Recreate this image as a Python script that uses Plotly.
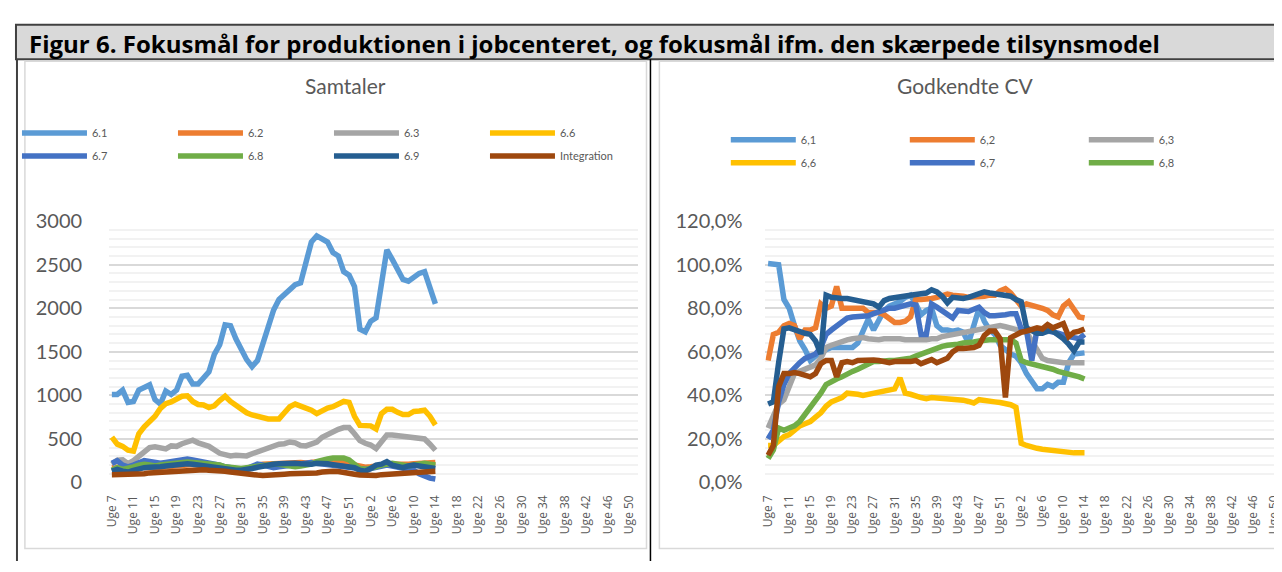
import plotly.graph_objects as go

# the page body has an 8px margin, so the figure is laid out 8px smaller
OFF = 8
W, H = 1282 - OFF, 572 - OFF

# week categories: Uge 7..53 and then Uge 1..50 of the next year
week_nums = list(range(7, 54)) + list(range(1, 51))
week_keys = [f"a{w}" for w in range(7, 54)] + [f"b{w}" for w in range(1, 51)]
week_labels = [f"Uge {w}" for w in week_nums]
data_keys = week_keys[:61]

# Samtaler (antal)
sam_61 = [1010, 1010, 1060, 920, 930, 1060, 1090, 1120, 950, 900,
          1050, 1010, 1060, 1220, 1230, 1130, 1130, 1190, 1270, 1470,
          1580, 1810, 1800, 1650, 1530, 1410, 1330, 1400, 1590, 1800,
          1980, 2100, 2160, 2210, 2270, 2290, 2500, 2760, 2830, 2800,
          2760, 2640, 2600, 2420, 2380, 2250, 1760, 1730, 1850, 1890,
          2250, 2670, 2560, 2430, 2330, 2310, 2360, 2400, 2420, 2250,
          2050]
sam_62 = [170, 175, 160, 150, 165, 170, 180, 175, 170, 175,
          180, 185, 190, 200, 210, 205, 200, 195, 190, 185,
          180, 175, 160, 150, 140, 145, 170, 200, 210, 215,
          220, 220, 225, 225, 230, 230, 225, 230, 240, 250,
          250, 240, 235, 230, 220, 200, 180, 175, 180, 190,
          200, 210, 215, 210, 205, 210, 215, 220, 230, 235,
          230]
sam_63 = [210, 255, 260, 215, 250, 300, 340, 400, 410, 395,
          385, 420, 415, 445, 470, 485, 455, 440, 415, 375,
          335, 320, 305, 312, 310, 305, 330, 355, 380, 400,
          420, 440, 445, 465, 455, 425, 420, 440, 465, 520,
          555, 590, 610, 630, 630, 560, 480, 450, 430, 390,
          460, 545, 545, 535, 525, 530, 520, 510, 500, 440,
          370]
sam_66 = [520, 440, 415, 370, 360, 560, 640, 700, 760, 850,
          905, 925, 950, 990, 995, 930, 895, 890, 860, 880,
          940, 990, 930, 880, 845, 800, 775, 760, 740, 730,
          730, 730, 800, 870, 900, 880, 860, 830, 790, 830,
          855, 870, 900, 930, 920, 760, 655, 650, 650, 615,
          790, 840, 840, 805, 780, 780, 815, 820, 830, 760,
          660]
sam_67 = [220, 250, 200, 180, 200, 230, 250, 240, 230, 220,
          230, 240, 250, 260, 270, 260, 250, 240, 230, 220,
          200, 180, 170, 160, 150, 160, 190, 210, 200, 180,
          170, 180, 190, 200, 210, 220, 220, 230, 220, 210,
          200, 190, 185, 180, 175, 170, 160, 150, 160, 170,
          180, 200, 190, 180, 170, 160, 140, 100, 70, 50,
          40]
sam_68 = [140, 170, 150, 160, 180, 200, 210, 200, 190, 200,
          210, 220, 230, 240, 235, 230, 225, 230, 225, 220,
          200, 180, 170, 160, 160, 170, 180, 190, 200, 200,
          210, 210, 200, 190, 180, 190, 200, 210, 240, 260,
          270, 280, 285, 280, 260, 200, 160, 150, 160, 180,
          200, 210, 220, 210, 200, 190, 200, 210, 220, 210,
          200]
sam_69 = [130, 150, 130, 120, 140, 160, 170, 175, 170, 180,
          190, 200, 210, 220, 215, 210, 200, 190, 180, 170,
          160, 150, 145, 140, 140, 145, 160, 175, 190, 200,
          210, 215, 220, 225, 220, 215, 205, 210, 220, 225,
          215, 205, 200, 195, 190, 170, 140, 130, 160, 200,
          210, 240, 200, 180, 170, 190, 200, 190, 180, 170,
          160]
sam_int = [90, 90, 95, 90, 90, 95, 100, 110, 115, 105,
           110, 120, 125, 135, 145, 150, 150, 145, 140, 140,
           135, 130, 120, 110, 100, 95, 90, 85, 80, 80,
           85, 90, 95, 100, 100, 100, 100, 105, 110, 120,
           130, 130, 125, 120, 110, 95, 85, 80, 75, 80,
           90, 95, 100, 105, 110, 115, 120, 125, 135, 140,
           130]

# Godkendte CV (procent)
cv_61 = [100.5, 100.5, 100, 84, 80, 72, 65, 61, 56, 58,
         60, 61, 62, 62, 62, 62, 62, 64, 69, 75,
         70, 75, 79, 81, 82, 83, 85, 86, 82, 77,
         79, 80, 72, 70, 70, 69.5, 70, 69, 64, 72,
         80, 74, 70, 68, 63, 61, 59, 58, 55, 50,
         47, 43, 43, 45, 44, 46, 46, 55, 59, 59,
         59.5]
cv_62 = [56, 68, 69, 72, 73, 72, 66, 70, 70, 71,
         82, 80, 81, 90, 80, 80, 80, 80, 80, 78,
         78, 78, 77, 75, 73.5, 73.5, 74, 76, 84, 84,
         84, 84.5, 85, 86, 86.5, 86, 86, 85.5, 85, 85,
         85.5, 85.5, 86, 86, 88, 89, 87, 84, 81, 82,
         81.5, 81, 80, 79, 77, 76, 81, 83, 79, 76,
         75.5]
cv_63 = [25, 30, 36, 38, 44, 50, 51, 52, 53, 54,
         57, 62, 63, 64, 65, 65.5, 66, 66.5, 66.5, 66,
         65.5, 65.5, 66, 66, 66.5, 66, 65.5, 65.5, 65, 65,
         65.5, 66, 66, 67, 67.5, 68, 68.5, 69, 69.5, 70,
         70, 70.5, 71, 71.5, 72, 71.5, 71, 70.5, 70, 69,
         65, 61, 57, 56, 55.5, 55, 55, 55, 55, 55,
         55]
cv_66 = [17, 17, 19, 21, 22, 24, 26, 27, 28, 30,
         32, 35, 37, 38, 39, 41, 41, 40.5, 40, 40.5,
         41.5, 42, 42.5, 42.5, 43, 48, 41, 40.5, 39.5, 39,
         38.5, 39, 38.8, 38.7, 38.5, 38.3, 38, 37.8, 37.2, 36.5,
         38, 37.5, 37.5, 37, 36.7, 36.5, 35.7, 34.5, 18, 17,
         16.2, 15.7, 15.3, 15, 14.6, 14.2, 13.8, 13.8, 13.6, 13.6,
         13.6]
cv_67 = [20, 24, 37, 45, 50, 53, 55, 57, 58, 59,
         62, 68, 70, 72, 74, 75.5, 76, 76, 76, 76.5,
         77.5, 78.5, 79.5, 80, 80, 80.5, 81, 82, 81.5, 68,
         68, 82, 80.5, 79, 77, 75.5, 79, 78.5, 78.5, 79.5,
         80.5, 78, 76.5, 76.5, 76.5, 77, 77.5, 77.5, 70.5, 69.5,
         56, 70.5, 70.5, 69.5, 69, 68.5, 67.5, 67, 66.5, 66,
         68]
cv_68 = [11, 15, 25, 24, 25, 26, 28, 31, 34, 37,
         41, 45, 46.5, 47.5, 48.5, 50, 51, 52, 53, 54.5,
         55.5, 55.5, 56, 56, 56, 56.2, 56.5, 57, 58, 59,
         60, 61, 62, 62.5, 63, 63, 63.5, 64, 64, 64.5,
         65, 65.5, 65.5, 65.5, 65.5, 65.5, 65.5, 64, 56, 55,
         54.5, 54, 53.5, 53, 52, 51, 50.5, 50, 49.5, 48.5,
         47.5]
cv_69 = [36, 37, 55, 70.5, 71, 70, 69, 68.5, 68, 65,
         59, 86, 85, 84.5, 84.5, 84.5, 84, 83.5, 83, 83,
         82, 80.5, 83.5, 84.5, 85, 85, 85.5, 86, 86.3, 86.6,
         87, 88.5, 87.5, 85.5, 82.5, 85, 84.5, 84.5, 85, 86,
         86.5, 87.5, 87, 86.5, 86, 86, 85.5, 84, 83, 71,
         70, 68.5, 68.5, 69.5, 69.5, 68, 66, 63.5, 60.5, 64.5,
         64.5]
cv_int = [12.5, 17, 44, 50, 50, 50.5, 50, 49, 48.5, 50,
          54.5, 56, 56, 48.5, 55, 55.5, 55, 56, 56.2, 56.4,
          56.2, 56, 55.5, 55, 55.5, 55.5, 55, 55.5, 56, 54.5,
          55.5, 56.4, 55, 56, 57, 60, 61.5, 61.5, 61.5, 62,
          63, 67.5, 69.5, 69.5, 66, 39, 66.5, 68, 69, 69.5,
          70.5, 71, 70.5, 72.5, 71, 72, 73, 67, 69, 69.5,
          70.5]

colors = ["#5B9BD5", "#ED7D31", "#A5A5A5", "#FFC000",
          "#4472C4", "#70AD47", "#255E91", "#9E480E"]

sam_names = ["6.1", "6.2", "6.3", "6.6", "6.7", "6.8", "6.9", "Integration"]
sam_series = [sam_61, sam_62, sam_63, sam_66, sam_67, sam_68, sam_69, sam_int]
cv_names = ["6,1", "6,2", "6,3", "6,6", "6,7", "6,8", "6,9", "Integration"]
cv_series = [cv_61, cv_62, cv_63, cv_66, cv_67, cv_68, cv_69, cv_int]


# positions below are screen pixels of the 1282x572 page
def px_x(v):
    return (v - OFF) / W


def px_y(v):
    return 1 - (v - OFF) / H


fig = go.Figure()

for i, (name, vals) in enumerate(zip(sam_names, sam_series)):
    fig.add_trace(go.Scatter(
        x=data_keys, y=vals, name=name, mode="lines",
        line=dict(color=colors[i], width=5.5),
        xaxis="x", yaxis="y",
        legend="legend" if i < 4 else "legend2",
    ))

for i, (name, vals) in enumerate(zip(cv_names, cv_series)):
    fig.add_trace(go.Scatter(
        x=data_keys, y=vals, name=name, mode="lines",
        line=dict(color=colors[i], width=5.5),
        xaxis="x2", yaxis="y2",
        legend="legend3" if i < 3 else "legend4",
        showlegend=i < 6,
    ))

tick_font = dict(family="Open Sans", size=12, color="#595959")
ylab_font = dict(family="Lato", size=20, color="#595959")
legend_font = dict(family="Lato", size=11, color="#595959")

xcommon = dict(
    type="category", categoryorder="array", categoryarray=week_keys,
    tickmode="array", tickvals=week_keys[::4], ticktext=week_labels[::4],
    tickangle=-90, tickfont=tick_font, showgrid=False, zeroline=False,
    showline=False, ticks="outside", ticklen=7, tickcolor="rgba(0,0,0,0)",
)

fig.update_layout(
    width=W, height=H,
    margin=dict(l=0, r=0, t=0, b=0),
    paper_bgcolor="white", plot_bgcolor="white",
    separators=",.",
    showlegend=True,
    xaxis=dict(xcommon, domain=[px_x(104), px_x(637)], range=[-0.5, 97.5], anchor="y"),
    xaxis2=dict(xcommon, domain=[px_x(766), 1.0], range=[-0.5, 96.5], anchor="y2"),
    yaxis=dict(
        domain=[px_y(490), px_y(217)], range=[0, 3000], dtick=500,
        showgrid=True, gridcolor="#D9D9D9", gridwidth=2, zeroline=False,
        tickfont=ylab_font, ticklabelstandoff=26, anchor="x",
        minor=dict(dtick=100, showgrid=True, gridcolor="#F2F2F2", gridwidth=2),
    ),
    yaxis2=dict(
        domain=[px_y(490), px_y(217)], range=[0, 120], dtick=20,
        tickformat=".1f", ticksuffix="%",
        showgrid=True, gridcolor="#D9D9D9", gridwidth=2, zeroline=False,
        tickfont=ylab_font, ticklabelstandoff=22, anchor="x2",
        minor=dict(dtick=4, showgrid=True, gridcolor="#F2F2F2", gridwidth=2),
    ),
    legend=dict(orientation="h", x=px_x(11), y=px_y(125), xanchor="left", yanchor="middle",
                entrywidth=76, itemwidth=65, font=legend_font, bgcolor="rgba(0,0,0,0)"),
    legend2=dict(orientation="h", x=px_x(11), y=px_y(149), xanchor="left", yanchor="middle",
                 entrywidth=76, itemwidth=65, font=legend_font, bgcolor="rgba(0,0,0,0)"),
    legend3=dict(orientation="h", x=px_x(726), y=px_y(132), xanchor="left", yanchor="middle",
                 entrywidth=99, itemwidth=65, font=legend_font, bgcolor="rgba(0,0,0,0)"),
    legend4=dict(orientation="h", x=px_x(726), y=px_y(156), xanchor="left", yanchor="middle",
                 entrywidth=99, itemwidth=65, font=legend_font, bgcolor="rgba(0,0,0,0)"),
)

# frame: title bar, outer border, divider and the two chart boxes
fig.add_shape(type="rect", xref="paper", yref="paper",
              x0=px_x(10), x1=1.01, y0=px_y(48), y1=px_y(12),
              fillcolor="#D9D9D9", line=dict(color="#404040", width=2), layer="below")
fig.add_shape(type="line", xref="paper", yref="paper",
              x0=px_x(11), x1=px_x(11), y0=px_y(48), y1=0,
              line=dict(color="#404040", width=2))
fig.add_shape(type="line", xref="paper", yref="paper",
              x0=px_x(650), x1=px_x(650), y0=px_y(48), y1=0,
              line=dict(color="black", width=1.5))
fig.add_shape(type="rect", xref="paper", yref="paper",
              x0=px_x(19), x1=px_x(646), y0=px_y(559), y1=px_y(50),
              line=dict(color="#D9D9D9", width=1.5), layer="below")
fig.add_shape(type="rect", xref="paper", yref="paper",
              x0=px_x(659), x1=1.02, y0=px_y(559), y1=px_y(50),
              line=dict(color="#D9D9D9", width=1.5), layer="below")

fig.add_annotation(text="<b>Figur 6. Fokusmål for produktionen i jobcenteret, og fokusmål ifm. den skærpede tilsynsmodel</b>",
                   xref="paper", yref="paper", x=px_x(21), y=px_y(31),
                   xanchor="left", yanchor="middle", showarrow=False,
                   font=dict(family="Open Sans", size=24, color="black"))
fig.add_annotation(text="Samtaler", xref="paper", yref="paper", x=px_x(342), y=px_y(75),
                   xanchor="center", yanchor="middle", showarrow=False,
                   font=dict(family="Lato", size=21, color="#595959"))
fig.add_annotation(text="Godkendte CV", xref="paper", yref="paper", x=px_x(967), y=px_y(75),
                   xanchor="center", yanchor="middle", showarrow=False,
                   font=dict(family="Lato", size=21, color="#595959"))

fig.write_html("out.html")
